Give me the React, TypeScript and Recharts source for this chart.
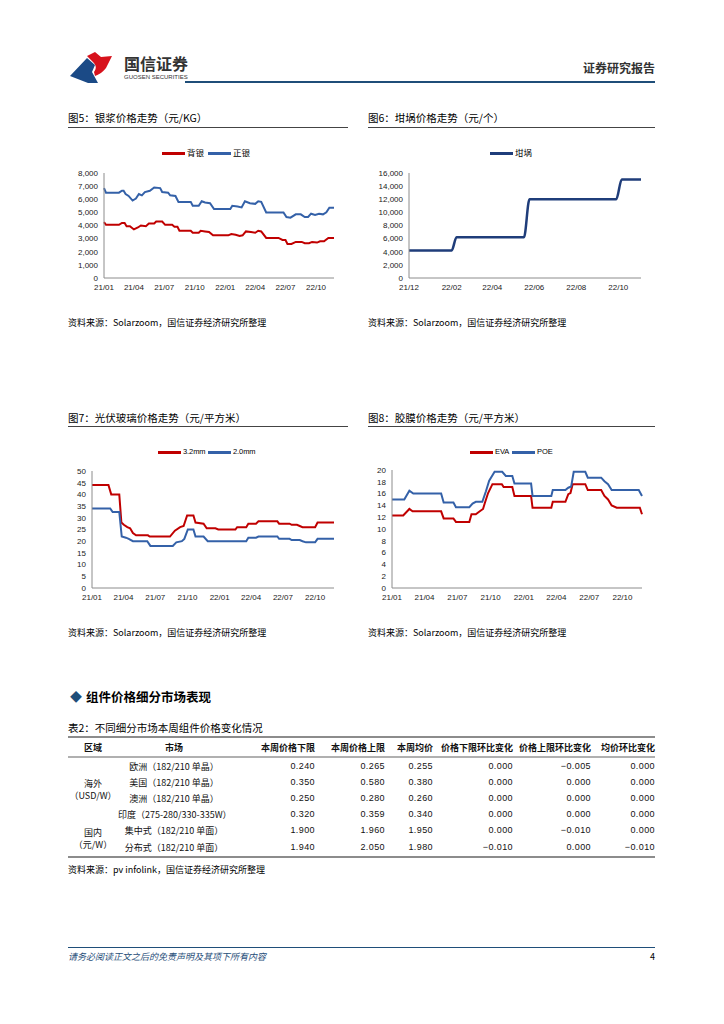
import React from 'react'
import { LineChart, Line, XAxis, YAxis } from 'recharts'

const CJK = '"Noto Sans CJK SC", "Noto Sans", sans-serif'
const LATIN = '"Liberation Sans", Arial, sans-serif'
const RED = '#c00000'
const BLUE = '#3461a8'
const NAVY = '#1f3d7a'
const AXIS = '#8c8c8c'
const BRAND = '#1f4e79'

// 图5 银浆价格（元/KG）
const backSilverDates = ['21/01/01', '21/01/07', '21/02/15', '21/02/24', '21/03/04', '21/03/10', '21/03/20', '21/04/01', '21/04/13', '21/04/22', '21/05/07', '21/05/16', '21/06/01', '21/06/07', '21/06/25', '21/07/04', '21/07/25', '21/08/01', '21/08/10', '21/08/16', '21/09/19', '21/09/25', '21/10/13', '21/10/19', '21/11/01', '21/11/13', '21/11/25', '22/01/10', '22/01/19', '22/02/01', '22/02/13', '22/02/22', '22/03/04', '22/03/19', '22/04/01', '22/04/10', '22/04/19', '22/05/04', '22/06/10', '22/06/22', '22/07/01', '22/07/07', '22/07/19', '22/08/01', '22/08/19', '22/08/28', '22/09/10', '22/09/19', '22/10/04', '22/10/13', '22/10/25', '22/11/07', '22/11/24']
const backSilverValues = [4250, 4050, 4050, 4200, 4200, 3950, 3950, 3700, 3850, 4000, 3950, 4150, 4150, 4300, 4300, 4050, 4050, 3900, 3900, 3600, 3600, 3450, 3450, 3600, 3550, 3500, 3250, 3250, 3350, 3300, 3200, 3250, 3550, 3500, 3450, 3600, 3550, 3050, 3050, 2900, 2900, 2600, 2600, 2750, 2750, 2650, 2650, 2750, 2700, 2800, 2800, 3050, 3050]
const frontSilverDates = ['21/01/01', '21/01/07', '21/02/15', '21/02/24', '21/03/01', '21/03/07', '21/03/16', '21/03/28', '21/04/07', '21/04/16', '21/04/25', '21/05/04', '21/05/19', '21/06/01', '21/06/19', '21/06/25', '21/07/13', '21/07/19', '21/08/04', '21/08/13', '21/09/19', '21/09/25', '21/10/13', '21/10/22', '21/11/01', '21/11/16', '21/11/28', '22/01/16', '22/01/22', '22/02/07', '22/02/19', '22/03/01', '22/03/16', '22/04/01', '22/04/10', '22/04/19', '22/05/04', '22/06/25', '22/07/04', '22/07/16', '22/08/01', '22/08/16', '22/08/28', '22/09/07', '22/09/16', '22/09/28', '22/10/10', '22/10/22', '22/11/01', '22/11/10', '22/11/24']
const frontSilverValues = [6850, 6500, 6500, 6650, 6650, 6400, 6250, 5900, 6050, 6400, 6300, 6550, 6650, 6900, 6850, 6550, 6500, 6300, 6250, 5800, 5800, 5500, 5500, 5850, 5750, 5700, 5250, 5250, 5500, 5450, 5380, 5850, 5700, 5650, 5850, 5800, 5000, 5000, 4650, 4600, 4850, 4850, 4650, 4650, 4900, 4800, 4900, 4850, 5000, 5350, 5350]
const silverTicks = [0, 1000, 2000, 3000, 4000, 5000, 6000, 7000, 8000]

// 图6 坩埚价格（元/个）
const crucibleDates = ['21/12/01', '22/02/01', '22/02/08', '22/05/17', '22/05/25', '22/09/28', '22/10/06', '22/11/03']
const crucibleValues = [4200, 4200, 6200, 6200, 12000, 12000, 15000, 15000]
const crucibleTicks = [0, 2000, 4000, 6000, 8000, 10000, 12000, 14000, 16000]
const crucibleMonths = ['21/12/01', '22/02/01', '22/04/01', '22/06/01', '22/08/01', '22/10/01']

// 图7 光伏玻璃价格（元/平方米）
const glass32Dates = ['21/01/01', '21/02/17', '21/02/25', '21/03/20', '21/03/26', '21/04/02', '21/04/12', '21/04/20', '21/04/28', '21/05/07', '21/06/10', '21/06/15', '21/08/12', '21/08/26', '21/09/10', '21/09/20', '21/09/30', '21/10/18', '21/10/24', '21/11/16', '21/11/25', '21/12/20', '21/12/28', '22/02/15', '22/02/20', '22/03/18', '22/03/24', '22/04/15', '22/04/22', '22/06/15', '22/06/20', '22/07/20', '22/07/26', '22/08/10', '22/08/18', '22/08/26', '22/10/01', '22/10/08', '22/11/24']
const glass32Values = [44, 44, 40, 40, 28, 27, 26, 25.5, 23.5, 22.5, 22.5, 22, 22, 24.5, 26, 26.5, 31, 31, 28, 27.5, 25.5, 25.5, 25, 25, 26, 26, 27.5, 27.5, 28.5, 28.5, 27.5, 27.5, 27, 27, 26.5, 26, 26, 28, 28]
const glass20Dates = ['21/01/01', '21/02/22', '21/03/01', '21/03/20', '21/03/27', '21/04/08', '21/04/16', '21/04/28', '21/06/08', '21/06/17', '21/08/20', '21/08/30', '21/09/15', '21/09/22', '21/10/02', '21/10/18', '21/10/24', '21/11/16', '21/11/28', '22/03/18', '22/03/24', '22/04/15', '22/04/22', '22/06/15', '22/06/20', '22/07/20', '22/07/26', '22/08/18', '22/08/26', '22/09/05', '22/10/01', '22/10/08', '22/11/24']
const glass20Values = [34, 34, 32.5, 32.5, 22, 21.5, 21, 20, 20, 18, 18, 19.5, 20, 21, 25, 25, 22, 22, 20, 20, 21.5, 21.5, 22, 22, 21, 21, 20.5, 20.5, 20, 19.5, 19.5, 21, 21]
const glassTicks = [0, 5, 10, 15, 20, 25, 30, 35, 40, 45, 50]

// 图8 胶膜价格（元/平方米）
const evaDates = ['21/01/01', '21/02/01', '21/02/18', '21/02/27', '21/05/17', '21/05/24', '21/06/20', '21/06/27', '21/08/03', '21/08/09', '21/08/21', '21/09/01', '21/09/10', '21/09/15', '21/09/24', '21/10/06', '21/11/01', '21/11/06', '21/11/30', '21/12/06', '22/01/21', '22/01/25', '22/03/18', '22/03/22', '22/04/26', '22/05/04', '22/05/10', '22/05/16', '22/06/20', '22/06/27', '22/08/03', '22/08/12', '22/08/22', '22/09/01', '22/09/15', '22/11/18', '22/11/24']
const evaValues = [12.3, 12.3, 13.4, 13, 13, 11.8, 11.8, 11.2, 11.2, 12.5, 12.5, 13, 13.4, 14.4, 16.1, 17.6, 17.6, 17.1, 17.1, 15.6, 15.6, 13.6, 13.6, 14.6, 14.6, 15.9, 16.1, 17.6, 17.6, 16.6, 16.6, 15.6, 15, 14, 13.6, 13.6, 12.5]
const poeDates = ['21/01/01', '21/02/04', '21/02/18', '21/03/01', '21/05/17', '21/05/24', '21/06/20', '21/06/27', '21/08/03', '21/08/12', '21/08/21', '21/09/08', '21/09/18', '21/09/27', '21/10/12', '21/11/02', '21/11/12', '21/11/30', '21/12/06', '22/01/21', '22/01/25', '22/03/18', '22/03/22', '22/04/26', '22/05/04', '22/05/12', '22/05/19', '22/06/20', '22/06/27', '22/08/03', '22/08/12', '22/08/22', '22/09/01', '22/11/15', '22/11/24']
const poeValues = [15, 15, 16.5, 16, 16, 14.5, 14.5, 13.7, 13.7, 14.3, 14.6, 14.6, 16.4, 18.2, 19.7, 19.7, 19, 19, 17.7, 17.7, 15.6, 15.6, 16.6, 16.6, 17, 17.2, 19.7, 19.7, 18.7, 18.7, 18.1, 17.6, 16.6, 16.6, 15.6]
const filmTicks = [0, 2, 4, 6, 8, 10, 12, 14, 16, 18, 20]

const quarterTicks = ['21/01/01', '21/04/01', '21/07/01', '21/10/01', '22/01/01', '22/04/01', '22/07/01', '22/10/01']

// 表2
const tableHeader = ['区域', '市场', '本周价格下限', '本周价格上限', '本周均价', '价格下限环比变化', '价格上限环比变化', '均价环比变化']
const regions = [{ name: '海外', unit: '（USD/W）', rows: 4 }, { name: '国内', unit: '（元/W）', rows: 2 }]
const markets = ['欧洲（182/210 单晶）', '美国（182/210 单晶）', '澳洲（182/210 单晶）', '印度（275-280/330-335W）', '集中式（182/210 单面）', '分布式（182/210 单面）']
const lowPrice = [0.24, 0.35, 0.25, 0.32, 1.9, 1.94]
const highPrice = [0.265, 0.58, 0.28, 0.359, 1.96, 2.05]
const avgPrice = [0.255, 0.38, 0.26, 0.34, 1.95, 1.98]
const lowChange = [0, 0, 0, 0, 0, -0.01]
const highChange = [-0.005, 0, 0, 0, -0.01, 0]
const avgChange = [0, 0, 0, 0, 0, -0.01]

const toTs = (s: string) => {
  const [y, m, d] = s.split('/').map(Number)
  return Date.UTC(2000 + y, m - 1, d)
}
const fmtMonth = (t: number) => {
  const d = new Date(t)
  return `${String(d.getUTCFullYear() % 100).padStart(2, '0')}/${String(d.getUTCMonth() + 1).padStart(2, '0')}`
}

function Txt({ x, y, size = 9, color = '#000', bold = false, italic = false, right = false, font = CJK, spacing = 0, children }: any) {
  const style: React.CSSProperties = {
    position: 'absolute', top: y - size * 0.7, fontSize: size, lineHeight: `${size * 1.4}px`,
    color, fontWeight: bold ? 700 : 400, fontStyle: italic ? 'italic' : 'normal', fontFamily: font,
    whiteSpace: 'nowrap', letterSpacing: spacing,
  }
  if (right) style.right = 724 - x
  else style.left = x
  return <div style={style}>{children}</div>
}

function Rule({ x, y, w, h = 1, color = '#555' }: any) {
  return <div style={{ position: 'absolute', left: x, top: y, width: w, height: h, background: color }} />
}

function LegendItem({ x, y, color, label, latin = false }: any) {
  return (
    <>
      <Rule x={x} y={y - 1} w={23} h={2.5} color={color} />
      {latin
        ? <Txt x={x + 25} y={y} size={7.5} font={LATIN} spacing={-0.1}>{label}</Txt>
        : <Txt x={x + 25} y={y} size={8.5}>{label}</Txt>}
    </>
  )
}

type Series = { dates: string[]; values: number[]; color: string; width?: number }

function TrendChart({ left, top, width, height, margin, yWidth, yMax, yTicks, comma, start, end, xTicks, series, curve = 'linear' }: any) {
  return (
    <div style={{ position: 'absolute', left, top }}>
      <LineChart width={width} height={height} margin={margin}>
        <XAxis
          type="number"
          dataKey="t"
          domain={[toTs(start), toTs(end)]}
          ticks={xTicks.map(toTs)}
          tickFormatter={fmtMonth}
          interval={0}
          height={22}
          axisLine={{ stroke: AXIS }}
          tickLine={false}
          tickSize={4}
          tickMargin={2}
          tick={{ fill: '#222', fontSize: 8, fontFamily: LATIN }}
        />
        <YAxis
          type="number"
          domain={[0, yMax]}
          ticks={yTicks}
          interval={0}
          width={yWidth}
          axisLine={{ stroke: AXIS }}
          tickLine={false}
          tickSize={4}
          tickMargin={2}
          tick={{ fill: '#222', fontSize: 8, fontFamily: LATIN }}
          tickFormatter={(v: number) => (comma ? v.toLocaleString('en-US') : String(v))}
        />
        {series.map((s: Series, i: number) => (
          <Line
            key={i}
            data={s.dates.map((d, j) => ({ t: toTs(d), v: s.values[j] }))}
            dataKey="v"
            type={curve}
            stroke={s.color}
            strokeWidth={s.width ?? 2}
            dot={false}
            activeDot={false}
            isAnimationActive={false}
          />
        ))}
      </LineChart>
    </div>
  )
}

function Logo() {
  return (
    <svg style={{ position: 'absolute', left: 68, top: 50 }} width={50} height={36}>
      <polygon points="2,26 19,8 27,15 24,22 30,33 20,33" fill="#1b4a86" />
      <path d="M19,6 L27,2 L33,7 L44,6 L38,18 C34,23 30,25 27,26 L26,22 C29,18 28,15 25,12 Z" fill="#d7121c" />
    </svg>
  )
}

const cell: React.CSSProperties = { padding: 0, whiteSpace: 'nowrap' }
const colWidths = [50, 112, 85, 70, 48, 80, 78, 64]
const rowHeights = [17, 16, 16, 16, 16, 19]
const fmt3 = (v: number) => v.toFixed(3)

function PriceTable() {
  let regionIdx = 0
  let used = 0
  return (
    <table style={{ position: 'absolute', left: 68, top: 736, width: 587, borderCollapse: 'collapse', tableLayout: 'fixed', fontFamily: CJK, fontSize: 9, color: '#111' }}>
      <colgroup>{colWidths.map((w, i) => <col key={i} style={{ width: w }} />)}</colgroup>
      <thead>
        <tr style={{ height: 20 }}>
          {tableHeader.map((h, i) => (
            <th key={i} style={{ ...cell, fontWeight: 700, textAlign: i < 2 ? 'center' : 'right', borderTop: '2px solid #8c8c8c', borderBottom: '2px solid #b0b0b0' }}>{h}</th>
          ))}
        </tr>
      </thead>
      <tbody>
        {markets.map((m, r) => {
          let regionCell = null
          if (r === used) {
            const reg = regions[regionIdx]
            regionCell = (
              <td rowSpan={reg.rows} style={{ ...cell, textAlign: 'center', verticalAlign: 'middle', lineHeight: '12px', borderBottom: r + reg.rows === markets.length ? '2px solid #8c8c8c' : undefined }}>
                {reg.name}<br />{reg.unit}
              </td>
            )
            used += reg.rows
            regionIdx += 1
          }
          const last = r === markets.length - 1
          const b = last ? '2px solid #8c8c8c' : undefined
          const nums = [lowPrice[r], highPrice[r], avgPrice[r], lowChange[r], highChange[r], avgChange[r]]
          return (
            <tr key={r} style={{ height: rowHeights[r] }}>
              {regionCell}
              <td style={{ ...cell, textAlign: 'center', borderBottom: b }}>{m}</td>
              {nums.map((v, i) => (
                <td key={i} style={{ ...cell, textAlign: 'right', borderBottom: b, fontFamily: LATIN, letterSpacing: 0.4 }}>{fmt3(v).replace('-', '−')}</td>
              ))}
            </tr>
          )
        })}
      </tbody>
    </table>
  )
}

export default function App() {
  return (
    <div style={{ position: 'absolute', left: 0, top: 0, width: 724, height: 1024, background: '#fff', overflow: 'hidden', fontFamily: CJK }}>
      {/* header */}
      <Logo />
      <Txt x={124} y={63} size={16} color="#333" bold>国信证券</Txt>
      <Txt x={124} y={77} size={6} color="#333" font={LATIN}>GUOSEN SECURITIES</Txt>
      <Txt x={655} y={68} size={12} color="#333" bold right>证券研究报告</Txt>
      <Rule x={185} y={81} w={470} h={2} color={BRAND} />

      {/* 图5 */}
      <Txt x={68} y={118} size={10.5}>图5：银浆价格走势（元/KG）</Txt>
      <Rule x={68} y={127} w={280} h={1} color="#444" />
      <LegendItem x={162} y={153} color={RED} label="背银" />
      <LegendItem x={208} y={153} color={BLUE} label="正银" />
      <TrendChart
        left={60} top={140} width={290} height={160}
        margin={{ top: 33, right: 16, bottom: 0, left: 0 }}
        yWidth={44} yMax={8000} yTicks={silverTicks} comma
        start="21/01/01" end="22/11/24" xTicks={quarterTicks}
        series={[
          { dates: backSilverDates, values: backSilverValues, color: RED },
          { dates: frontSilverDates, values: frontSilverValues, color: BLUE },
        ]}
      />
      <Txt x={68} y={323} size={9}>资料来源：Solarzoom，国信证券经济研究所整理</Txt>

      {/* 图6 */}
      <Txt x={368} y={118} size={10.5}>图6：坩埚价格走势（元/个）</Txt>
      <Rule x={368} y={127} w={287} h={1} color="#444" />
      <LegendItem x={490} y={153} color={NAVY} label="坩埚" />
      <TrendChart
        left={360} top={140} width={300} height={160}
        margin={{ top: 33, right: 19, bottom: 0, left: 0 }}
        yWidth={49} yMax={16000} yTicks={crucibleTicks} comma
        start="21/12/01" end="22/11/03" xTicks={crucibleMonths}
        curve="monotone"
        series={[{ dates: crucibleDates, values: crucibleValues, color: NAVY, width: 2.5 }]}
      />
      <Txt x={368} y={323} size={9}>资料来源：Solarzoom，国信证券经济研究所整理</Txt>

      {/* 图7 */}
      <Txt x={68} y={418} size={10.5}>图7：光伏玻璃价格走势（元/平方米）</Txt>
      <Rule x={68} y={426} w={280} h={1} color="#444" />
      <LegendItem x={158} y={452} color={RED} label="3.2mm" latin />
      <LegendItem x={208} y={452} color={BLUE} label="2.0mm" latin />
      <TrendChart
        left={60} top={440} width={290} height={170}
        margin={{ top: 31, right: 16, bottom: 0, left: 0 }}
        yWidth={32} yMax={50} yTicks={glassTicks}
        start="21/01/01" end="22/11/24" xTicks={quarterTicks}
        series={[
          { dates: glass32Dates, values: glass32Values, color: RED },
          { dates: glass20Dates, values: glass20Values, color: BLUE },
        ]}
      />
      <Txt x={68} y={633} size={9}>资料来源：Solarzoom，国信证券经济研究所整理</Txt>

      {/* 图8 */}
      <Txt x={368} y={418} size={10.5}>图8：胶膜价格走势（元/平方米）</Txt>
      <Rule x={368} y={426} w={287} h={1} color="#444" />
      <LegendItem x={470} y={452} color={RED} label="EVA" latin />
      <LegendItem x={512} y={452} color={BLUE} label="POE" latin />
      <TrendChart
        left={360} top={440} width={300} height={170}
        margin={{ top: 30, right: 18, bottom: 0, left: 0 }}
        yWidth={32} yMax={20} yTicks={filmTicks}
        start="21/01/01" end="22/11/24" xTicks={quarterTicks}
        series={[
          { dates: evaDates, values: evaValues, color: RED },
          { dates: poeDates, values: poeValues, color: BLUE },
        ]}
      />
      <Txt x={368} y={633} size={9}>资料来源：Solarzoom，国信证券经济研究所整理</Txt>

      {/* 表2 */}
      <Txt x={70} y={697} size={12} color={BRAND}>◆</Txt>
      <Txt x={86} y={697} size={12.5} bold>组件价格细分市场表现</Txt>
      <Txt x={68} y={728} size={10.5}>表2：不同细分市场本周组件价格变化情况</Txt>
      <PriceTable />
      <Txt x={68} y={870} size={9}>资料来源：pv infolink，国信证券经济研究所整理</Txt>

      {/* footer */}
      <Rule x={68} y={947} w={587} h={1} color={BRAND} />
      <Txt x={68} y={957} size={9} color={BRAND} italic>请务必阅读正文之后的免责声明及其项下所有内容</Txt>
      <Txt x={655} y={957} size={9} right>4</Txt>
    </div>
  )
}
